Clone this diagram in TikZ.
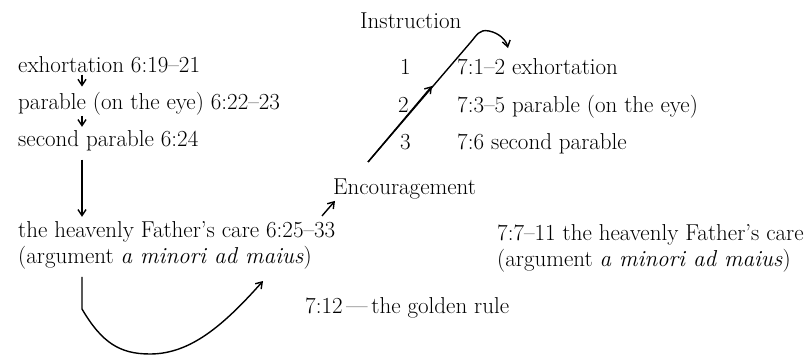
\documentclass[tikz,border=0pt]{standalone}
\usepackage{fontspec}
\usepackage{tikz}
\usetikzlibrary{arrows.meta}

\begin{document}
\begin{tikzpicture}[
x=1pt,y=-1pt,
txt/.style={anchor=base west,inner sep=0pt,font=\fontsize{23}{28}\selectfont},
arr/.style={-{Straight Barb[length=6pt,width=8pt]},line width=1.4pt},
link/.style={line width=1.4pt}
]
\useasboundingbox (0,0) rectangle (804,356);
% left column: Matthew 6
\node[txt] (exh) at (18,72) {exhortation 6:19--21};
\node[txt] (par) at (18,109) {parable (on the eye) 6:22--23};
\node[txt] (sec) at (18,146) {second parable 6:24};
\node[txt] (care) at (18,237) {the heavenly Father's care 6:25--33};
\node[txt] (arg) at (18,263) {(argument \textit{a minori ad maius})};
% middle labels
\node[txt] (ins) at (360,28) {Instruction};
\node[txt] (enc) at (333,194) {Encouragement};
\node[txt] (gold) at (305,313) {7:12\,---\,the golden rule};
% right column: Matthew 7
\node[txt] (n1) at (400,74) {1};
\node[txt] (n2) at (398,112) {2};
\node[txt] (n3) at (400,149) {3};
\node[txt] (r1) at (457,74) {7:1--2 exhortation};
\node[txt] (r2) at (457,112) {7:3--5 parable (on the eye)};
\node[txt] (r3) at (457,149) {7:6 second parable};
\node[txt] (rcare) at (497,240) {7:7--11 the heavenly Father's care};
\node[txt] (rarg) at (497,266) {(argument \textit{a minori ad maius})};
% free ends
\coordinate (up0) at (368,162);
\coordinate (upmid) at (432,86);
\coordinate (upbend) at (470,43);
\coordinate (uptip) at (508,48);
\coordinate (lowtip) at (263,281);
% arrows
\draw[arr] ([xshift=64pt,yshift=-2pt]exh.south west) -- ([xshift=64pt,yshift=5pt]par.north west);
\draw[arr] ([xshift=64pt,yshift=-1pt]par.south west) -- ([xshift=64pt,yshift=3pt]sec.north west);
\draw[arr] ([xshift=64pt,yshift=-9pt]sec.south west) -- ([xshift=64pt,yshift=4pt]care.north west);
\draw[arr] ([xshift=-11pt,yshift=-17pt]enc.south west) -- ([xshift=2pt,yshift=-2pt]enc.south west);
\draw[arr] ([xshift=64pt,yshift=-8pt]arg.south west) -- (82,309)
  .. controls +(20,34) and +(-30,0) .. (150,354)
  .. controls +(40,0) and +(-40,45) .. (lowtip);
\draw[link] (up0) -- (upbend)
  .. controls +(7,-8) and +(-10,-2) .. (489,31);
\draw[arr] (489,31) .. controls +(10,2) and +(-2,-8) .. (uptip);
\draw[arr] (up0) -- (upmid);
\end{tikzpicture}
\end{document}
